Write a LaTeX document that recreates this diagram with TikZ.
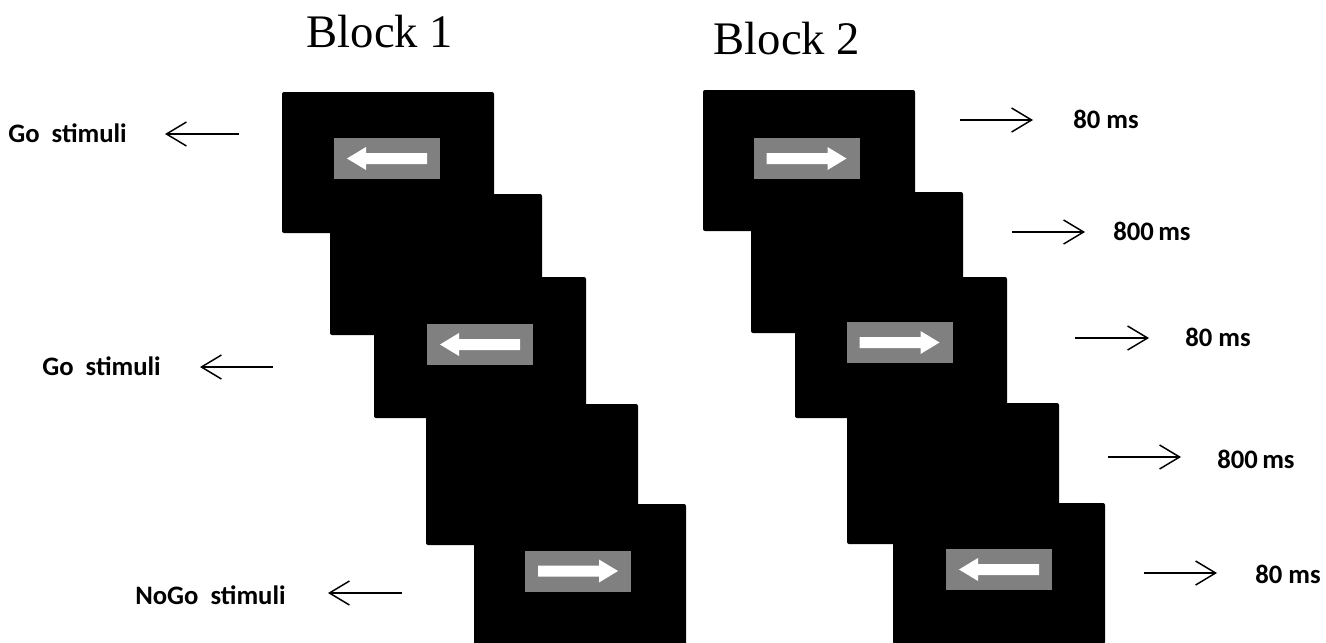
\documentclass[tikz,border=0pt]{standalone}
\usepackage{fontspec}
\setmainfont{Liberation Serif}
\newfontfamily\cuefont{Carlito}
\usetikzlibrary{arrows.meta}

\begin{document}
\begin{tikzpicture}[x = 0.75pt, y = -0.75pt,
		screen/.style = {fill = black, rounded corners = 1.5pt},
		stim/.style = {fill = gray, inner sep = 0pt, minimum width = 79.5pt, minimum height = 30.75pt},
		title/.style = {anchor = base, inner sep = 0pt, font = \fontsize{35}{40}\selectfont},
		cuelabel/.style = {anchor = base west, inner sep = 0pt, font = \cuefont\bfseries\fontsize{20}{24}\selectfont},
		pointer/.style = {line width = 1.1pt, -{Straight Barb[length = 15pt, width = 18pt]}},
		rcue/.pic = {\fill [white] (-40,-5.5) -- (21,-5.5) -- (21,-11.5) -- (40,0) -- (21,11.5) -- (21,5.5) -- (-40,5.5) -- cycle;},
		lcue/.pic = {\fill [white] (40,-5.5) -- (-21,-5.5) -- (-21,-11.5) -- (-40,0) -- (-21,11.5) -- (-21,5.5) -- (40,5.5) -- cycle;}]
	\useasboundingbox (0,0) rectangle (1326,642);

	\begin{scope}
		\foreach \x/\y in {282/92, 330/194, 374/277, 426/404, 474/504, 703/90, 751/192, 795/277, 847/403, 893/503}
		{
			\fill [screen] (\x,\y) rectangle ++(212,141);
		}
	\end{scope}

	\begin{scope}
		\node [stim] (bonego) at (387,158.5) {};
		\node [stim] (bonegob) at (480,344.5) {};
		\node [stim] (bonenogo) at (578,571) {};
		\node [stim] (btwogo) at (806.5,158.5) {};
		\node [stim] (btwogob) at (899.5,342.5) {};
		\node [stim] (btwonogo) at (999,569.5) {};

		\pic at (bonego) {lcue};
		\pic at (bonegob) {lcue};
		\pic at (bonenogo) {rcue};
		\pic at (btwogo) {rcue};
		\pic at (btwogob) {rcue};
		\pic at (btwonogo) {lcue};
	\end{scope}

	\begin{scope}
		\node [title] (blockone) at (380,48) {Block 1};
		\node [title] (blocktwo) at (787,55) {Block 2};

		\node [cuelabel] (goone) at (8,142) {Go\ \ stimuli};
		\node [cuelabel] (gotwo) at (42,375) {Go\ \ stimuli};
		\node [cuelabel] (nogo) at (135,604) {NoGo\ \ stimuli};

		\node [cuelabel] (tone) at (1073,128) {80 ms};
		\node [cuelabel] (ttwo) at (1113,240) {800\,ms};
		\node [cuelabel] (tthree) at (1185,346) {80 ms};
		\node [cuelabel] (tfour) at (1217,468) {800\,ms};
		\node [cuelabel] (tfive) at (1255,583) {80 ms};
	\end{scope}

	\coordinate (goonefrom) at (239,134);
	\coordinate (gooneto) at (165,134);
	\coordinate (gotwofrom) at (273,367);
	\coordinate (gotwoto) at (200,367);
	\coordinate (nogofrom) at (402,593);
	\coordinate (nogoto) at (328,593);
	\coordinate (tonefrom) at (960,120);
	\coordinate (toneto) at (1033,120);
	\coordinate (ttwofrom) at (1012,232);
	\coordinate (ttwoto) at (1085,232);
	\coordinate (tthreefrom) at (1075,338);
	\coordinate (tthreeto) at (1149,338);
	\coordinate (tfourfrom) at (1108,457);
	\coordinate (tfourto) at (1181,457);
	\coordinate (tfivefrom) at (1144,573);
	\coordinate (tfiveto) at (1217,573);

	\begin{scope}
		\foreach \a in {goone, gotwo, nogo, tone, ttwo, tthree, tfour, tfive}
		{
			\draw [pointer] (\a from) -- (\a to);
		}
	\end{scope}
\end{tikzpicture}
\end{document}
